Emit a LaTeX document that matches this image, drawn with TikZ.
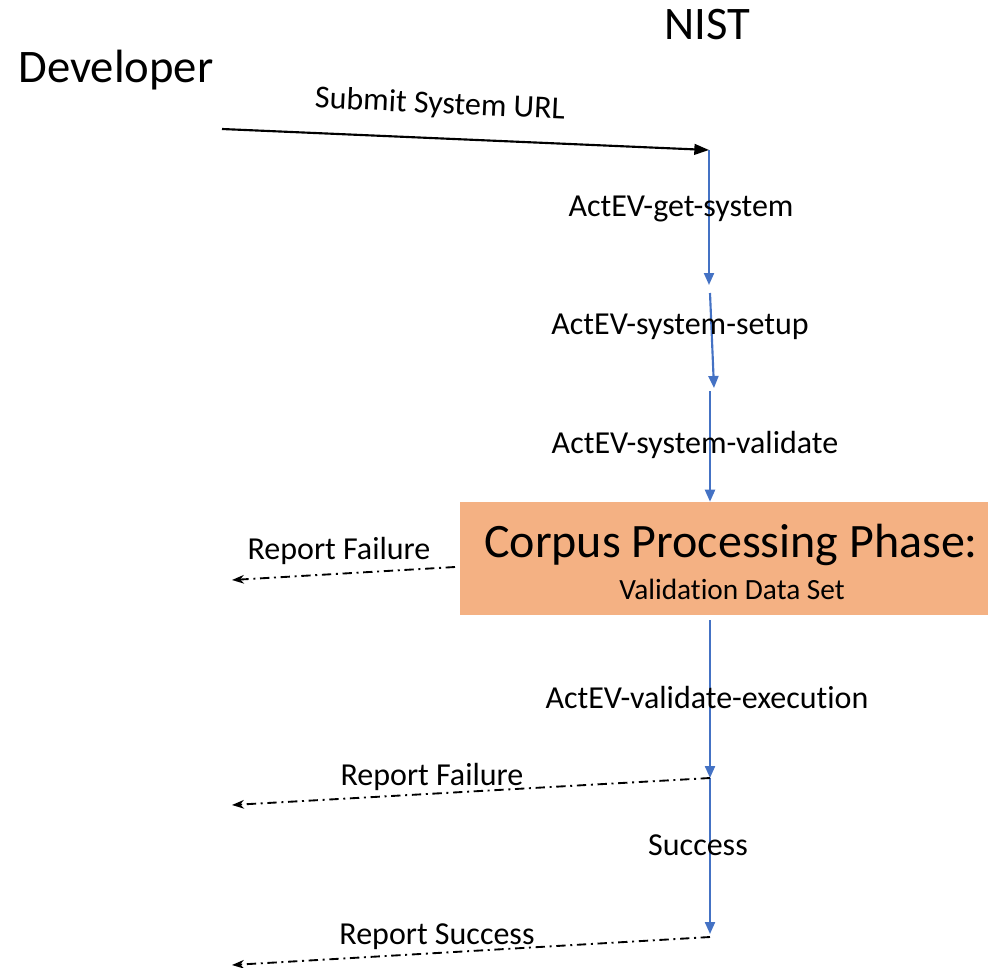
\documentclass[tikz,border=0pt]{standalone}
\usepackage{fontspec}
\setmainfont{Carlito}[Ligatures=NoCommon]
\usepackage{xcolor}
\usepackage{tikz}
\usetikzlibrary{positioning, arrows.meta, calc}

\definecolor{flowblue}{HTML}{4472C4}
\definecolor{phaseorange}{HTML}{F4B183}

\begin{document}
\begin{tikzpicture}[
        x=0.75pt, y=-0.75pt,
        actor/.style={font=\fontsize{35}{42}\selectfont, inner sep=0pt},
        steplabel/.style={font=\fontsize{24}{29}\selectfont, inner sep=0pt},
        flow/.style={color=flowblue, line width=1.6pt, -{Triangle[length=9pt, width=7.5pt]}},
        report/.style={line width=1.4pt, dash pattern=on 7pt off 3.5pt on 1.5pt off 3.5pt,
            -{Stealth[length=9pt, width=6.5pt]}}
    ]
    \useasboundingbox (0,0) rectangle (988,967);

    % actors
    \node[actor] (developer) at (116,70) {Developer};
    \node[actor] (nist) at (707,25) {NIST};

    % submission
    \coordinate (devout) at (222,129);
    \coordinate (nisttop) at (709,150);
    \node[steplabel, rotate=-2.7] (submit) at (440,105) {Submit System URL};
    \draw[line width=1.6pt, -{Triangle[length=11pt, width=8pt]}] (devout) -- (nisttop);

    % NIST lifeline
    \coordinate (get) at (709,285);
    \coordinate (setupin) at (710,293);
    \coordinate (setup) at (714,388);
    \coordinate (validatein) at (710,391);
    \node[
        fill=phaseorange,
        minimum width=396pt,
        minimum height=84.75pt,
        inner sep=0pt
    ] (phase) at (724,558.5) {};
    \node[font=\fontsize{36}{43}\selectfont, inner sep=0pt] (phasetitle) at (731,545) {Corpus Processing Phase:};
    \node[font=\fontsize{22}{26}\selectfont, inner sep=0pt] (phasedata) at (732,589) {Validation Data Set};

    \coordinate (execin) at (710,620);
    \coordinate (exec) at (710,778);
    \coordinate (done) at (710,934);
    \coordinate (succout) at (710,937);

    \draw[flow] (nisttop) -- (get);
    \draw[flow] (setupin) -- (setup);
    \draw[flow] (validatein) -- (validatein |- phase.north);
    \draw[flow] (execin) -- (exec);
    \draw[flow] (exec) -- (done);

    \node[steplabel] (getsys) at (681,209) {ActEV-get-system};
    \node[steplabel] (sysset) at (680,327) {ActEV-system-setup};
    \node[steplabel] (sysval) at (695,445) {ActEV-system-validate};
    \node[steplabel] (valexec) at (707,697) {ActEV-validate-execution};
    \node[steplabel] (success) at (698,845) {Success};

    % reports back to the developer
    \coordinate (failout) at (455,567);
    \coordinate (fail1) at (232,580);
    \coordinate (fail2) at (232,805);
    \coordinate (succ) at (232,965);
    \draw[report] (failout) -- (fail1);
    \draw[report] (exec) -- (fail2);
    \draw[report] (succout) -- (succ);

    \node[steplabel] (failone) at (339,551) {Report Failure};
    \node[steplabel] (failtwo) at (432,777) {Report Failure};
    \node[steplabel] (reportsucc) at (437,937) {Report Success};
\end{tikzpicture}
\end{document}
